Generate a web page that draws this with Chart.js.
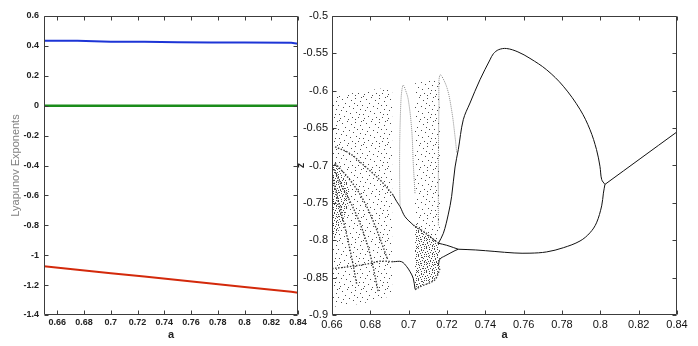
<!DOCTYPE html>
<html>
<head>
<meta charset="utf-8">
<script src="https://cdn.jsdelivr.net/npm/chart.js@4.4.0/dist/chart.umd.min.js"></script>
<style>
  body { margin: 0; background: #fff; }
  #wrap { position: relative; width: 698px; height: 346px; overflow: hidden; }
  #wrap canvas { position: absolute; top: 0; }
</style>
</head>
<body>
<div id="wrap">
  <canvas id="lyaChart" width="310" height="346" style="left:0"></canvas>
  <canvas id="bifChart" width="408" height="346" style="left:290px"></canvas>
</div>
<script>
// ---------- left panel: Lyapunov exponents ----------
const lyaA     = [0.65, 0.675, 0.70, 0.725, 0.75, 0.775, 0.80, 0.835, 0.84];
const lyaBlue  = [0.435, 0.434, 0.428, 0.427, 0.424, 0.423, 0.422, 0.421, 0.415];
const lyaGreen = [0, 0, 0, 0, 0, 0, 0, 0, 0];
const lyaRed   = [-1.074, -1.097, -1.120, -1.143, -1.166, -1.189, -1.213, -1.245, -1.251];

const leftXTicks = [0.66, 0.68, 0.70, 0.72, 0.74, 0.76, 0.78, 0.80, 0.82, 0.84];
const leftYTicks = [-1.4, -1.2, -1.0, -0.8, -0.6, -0.4, -0.2, 0, 0.2, 0.4, 0.6];

// ---------- right panel: bifurcation diagram, z against a ----------
const rightXTicks = [0.66, 0.68, 0.70, 0.72, 0.74, 0.76, 0.78, 0.80, 0.82, 0.84];
const rightYTicks = [-0.9, -0.85, -0.8, -0.75, -0.7, -0.65, -0.6, -0.55, -0.5];

// periodic branches (solid curves)
const branchP1 = [[0.8024, -0.7253], [0.84, -0.6550]];
const branchUpper = [[0.8024, -0.7253], [0.8007, -0.7187], [0.7998, -0.7010], [0.7980, -0.6787], [0.7946, -0.6520],
  [0.7894, -0.6250], [0.7807, -0.5940], [0.7720, -0.5720], [0.7633, -0.5567], [0.7570, -0.5480], [0.7511, -0.5435],
  [0.7470, -0.5450], [0.7442, -0.5505], [0.7424, -0.5587], [0.7372, -0.5853], [0.7320, -0.6164], [0.7285, -0.6387],
  [0.7259, -0.6787], [0.7242, -0.7020], [0.7224, -0.7417], [0.7207, -0.7650], [0.7181, -0.7907], [0.7155, -0.8040]];
const branchLower = [[0.8024, -0.7253], [0.8016, -0.7370], [0.8007, -0.7540], [0.7980, -0.7767], [0.7946, -0.7900],
  [0.7894, -0.8010], [0.7807, -0.8100], [0.7720, -0.8156], [0.7633, -0.8173], [0.7550, -0.8170], [0.7450, -0.8150],
  [0.7350, -0.8130], [0.7259, -0.8120]];
const loopUpper = [[0.7155, -0.8040], [0.7198, -0.8067], [0.7233, -0.8097], [0.7259, -0.8120]];
const loopLower = [[0.7155, -0.8340], [0.7163, -0.8253], [0.7190, -0.8209], [0.7216, -0.8173], [0.7242, -0.8138], [0.7259, -0.8120]];
const windowUpper = [[0.6920, -0.7400], [0.6938, -0.7484], [0.6955, -0.7550], [0.6981, -0.7685], [0.7024, -0.7796]];
const windowLower = [[0.6920, -0.8287], [0.6963, -0.8287], [0.6990, -0.8354], [0.7007, -0.8420], [0.7024, -0.8510], [0.7033, -0.8650]];

// faint arcs
const arcWindow = [[0.6955, -0.7550], [0.6953, -0.7200], [0.6953, -0.6800], [0.6955, -0.6500], [0.6960, -0.6120],
  [0.6966, -0.5970], [0.6972, -0.5925], [0.6982, -0.5980], [0.6998, -0.6120], [0.7016, -0.6525], [0.7024, -0.6970], [0.7033, -0.7370]];
const arcBand2 = [[0.7155, -0.7800], [0.7155, -0.7000], [0.7158, -0.6200], [0.7163, -0.5790], [0.7198, -0.5946],
  [0.7224, -0.6258], [0.7242, -0.6615], [0.7251, -0.6837]];

// dense streaks inside the chaotic bands
const streak1 = [[0.6616, -0.675], [0.6694, -0.684], [0.6763, -0.699], [0.6820, -0.712], [0.6868, -0.724], [0.6920, -0.740]];
const streak2 = [[0.6616, -0.697], [0.6694, -0.7194], [0.6763, -0.746], [0.6816, -0.775], [0.6868, -0.810], [0.6890, -0.826]];
const streak3 = [[0.6610, -0.705], [0.6655, -0.730], [0.6694, -0.748], [0.6750, -0.780], [0.6800, -0.820], [0.6842, -0.870]];
const streak4 = [[0.6605, -0.715], [0.6630, -0.745], [0.6665, -0.780], [0.6700, -0.820], [0.6730, -0.860]];
const streak5 = [[0.6600, -0.838], [0.6700, -0.835], [0.6800, -0.831], [0.6850, -0.828], [0.6920, -0.8287]];
const streak6 = [[0.7024, -0.7796], [0.7080, -0.7890], [0.7120, -0.7970], [0.7155, -0.8040]];
const streak7 = [[0.7033, -0.8660], [0.7070, -0.8610], [0.7110, -0.8570], [0.7140, -0.8520], [0.7163, -0.8380]];

// chaotic band outlines
const band1Top    = [[0.66, -0.607], [0.667, -0.605], [0.675, -0.601], [0.683, -0.598], [0.6915, -0.595]];
const band1Bottom = [[0.66, -0.889], [0.668, -0.887], [0.675, -0.885], [0.680, -0.882], [0.684, -0.878], [0.688, -0.877], [0.6915, -0.870]];
const band1DenseTop    = [[0.66, -0.695], [0.664, -0.705], [0.669, -0.725]];
const band1DenseBottom = [[0.66, -0.800], [0.664, -0.785], [0.669, -0.750]];
const band2Top    = [[0.7033, -0.590], [0.708, -0.588], [0.712, -0.586], [0.7163, -0.582]];
const band2Bottom = [[0.7033, -0.866], [0.707, -0.861], [0.711, -0.857], [0.714, -0.852], [0.7163, -0.838]];
const band2DenseTop = [[0.7033, -0.776], [0.708, -0.787], [0.712, -0.795], [0.7163, -0.806]];

// ---------- helpers ----------
const fmt = v => String(parseFloat(Number(v).toFixed(2)));
const pts = arr => arr.map(p => ({ x: p[0], y: p[1] }));

function dotPattern(size, dots, color) {
    const c = document.createElement('canvas');
    c.width = size; c.height = size;
    const g = c.getContext('2d');
    g.fillStyle = color;
    dots.forEach(d => g.fillRect(d[0], d[1], 1, 1));
    return g.createPattern(c, 'repeat');
}
// stipple textures for the chaotic bands (fixed dot layout in one tile)
const sparseDots = dotPattern(24, [[1,0],[9,1],[17,2],[23,1],[4,3],[13,4],[22,5],[7,7],[16,7],[19,9],[0,9],[11,10],
    [5,11],[15,12],[3,14],[22,13],[8,15],[18,16],[21,18],[12,17],[1,18],[6,20],[20,21],[14,21],[10,23],[2,22],[17,23]], 'rgba(30,30,30,0.8)');
const denseDots  = dotPattern(8, [[0,0],[3,1],[6,0],[1,3],[5,2],[7,4],[2,5],[4,4],[0,6],[6,6],[3,7]], 'rgba(20,20,20,0.75)');

// MATLAB style box with inward tick marks
const matlabBox = {
    id: 'matlabBox',
    afterDraw(chart, args, opts) {
        const { ctx, chartArea: { left, right, top, bottom }, scales: { x, y } } = chart;
        const L = Math.round(left) + 0.5, R = Math.round(right) - 0.5;
        const T = Math.round(top) + 0.5, B = Math.round(bottom) - 0.5;
        const len = opts.len || 4;
        ctx.save();
        ctx.strokeStyle = '#3c3c3c';
        ctx.lineWidth = 1;
        ctx.beginPath();
        ctx.rect(L, T, R - L, B - T);
        x.ticks.forEach(t => {
            const px = Math.round(x.getPixelForValue(t.value)) + 0.5;
            ctx.moveTo(px, B); ctx.lineTo(px, B - len);
            ctx.moveTo(px, T); ctx.lineTo(px, T + len);
        });
        y.ticks.forEach(t => {
            const py = Math.round(y.getPixelForValue(t.value)) + 0.5;
            ctx.moveTo(L, py); ctx.lineTo(L + len, py);
            ctx.moveTo(R, py); ctx.lineTo(R - len, py);
        });
        ctx.stroke();
        ctx.restore();
    }
};

// ---------- left chart ----------
const boldTick = { family: 'Liberation Sans', size: 9, weight: 'bold' };

new Chart(document.getElementById('lyaChart'), {
    type: 'line',
    data: {
        datasets: [
            { data: lyaA.map((a, i) => ({ x: a, y: lyaGreen[i] })), borderColor: '#1a8c1a', borderWidth: 2.5 },
            { data: lyaA.map((a, i) => ({ x: a, y: lyaBlue[i] })), borderColor: '#1d35d6', borderWidth: 2 },
            { data: lyaA.map((a, i) => ({ x: a, y: lyaRed[i] })), borderColor: '#d3290b', borderWidth: 2 }
        ]
    },
    options: {
        responsive: false,
        animation: false,
        devicePixelRatio: 1,
        layout: { padding: { left: 0, right: 12, top: 16, bottom: 0 } },
        elements: { point: { radius: 0 }, line: { tension: 0 } },
        plugins: { legend: { display: false }, tooltip: { enabled: false }, matlabBox: { len: 4 } },
        scales: {
            x: {
                type: 'linear', min: 0.65, max: 0.84,
                afterBuildTicks: s => { s.ticks = leftXTicks.map(v => ({ value: v })); },
                afterFit: s => { s.height = 31; },
                grid: { display: false, drawTicks: false },
                border: { display: false },
                ticks: { font: boldTick, color: '#222', padding: 2, maxRotation: 0, autoSkip: false, callback: fmt },
                title: { display: true, text: 'a', color: '#222', font: { family: 'Liberation Sans', size: 11, weight: 'bold' }, padding: { top: 0, bottom: 4 } }
            },
            y: {
                min: -1.4, max: 0.6,
                afterBuildTicks: s => { s.ticks = leftYTicks.map(v => ({ value: v })); },
                afterFit: s => { s.width = 44; },
                grid: { display: false, drawTicks: false },
                border: { display: false },
                ticks: { font: boldTick, color: '#222', padding: 5, autoSkip: false, callback: fmt },
                title: { display: true, text: 'Lyapunov Exponents', color: '#808080', font: { family: 'Liberation Sans', size: 11 }, padding: { top: 9, bottom: 0 } }
            }
        }
    },
    plugins: [matlabBox]
});

// ---------- right chart ----------
const fillBand = (top, color) => ({ data: pts(top), borderColor: 'rgba(0,0,0,0)', borderWidth: 0, backgroundColor: color, fill: '+1', tension: 0.3 });
const edge = arr => ({ data: pts(arr), borderColor: 'rgba(0,0,0,0)', borderWidth: 0, fill: false, tension: 0.3 });
const solid = (arr, w) => ({ data: pts(arr), borderColor: '#111', borderWidth: w || 1, fill: false, tension: 0.35 });
const faint = arr => ({ data: pts(arr), borderColor: '#8a8a8a', borderWidth: 1, borderDash: [1, 1], fill: false, tension: 0.35 });
const streak = arr => ({ data: pts(arr), borderColor: 'rgba(15,15,15,0.8)', borderWidth: 1.4, borderDash: [1.5, 1.5], fill: false, tension: 0.35 });

const rightTick = { family: 'Liberation Sans', size: 11 };

new Chart(document.getElementById('bifChart'), {
    type: 'line',
    data: {
        datasets: [
            fillBand(band1Top, sparseDots), edge(band1Bottom),
            fillBand(band1DenseTop, denseDots), edge(band1DenseBottom),
            fillBand(band2Top, sparseDots), edge(band2Bottom),
            fillBand(band2DenseTop, denseDots), edge(band2Bottom),
            faint(arcWindow), faint(arcBand2),
            streak(streak1), streak(streak2), streak(streak3), streak(streak4),
            streak(streak5), streak(streak6), streak(streak7),
            solid(windowUpper), solid(windowLower),
            solid(loopUpper), solid(loopLower),
            solid(branchUpper), solid(branchLower), solid(branchP1)
        ]
    },
    options: {
        responsive: false,
        animation: false,
        devicePixelRatio: 1,
        layout: { padding: { left: 0, right: 21, top: 16, bottom: 0 } },
        elements: { point: { radius: 0 } },
        plugins: { legend: { display: false }, tooltip: { enabled: false }, matlabBox: { len: 4 } },
        scales: {
            x: {
                type: 'linear', min: 0.66, max: 0.84,
                afterBuildTicks: s => { s.ticks = rightXTicks.map(v => ({ value: v })); },
                afterFit: s => { s.height = 31; },
                grid: { display: false, drawTicks: false },
                border: { display: false },
                ticks: { font: rightTick, color: '#111', padding: 3, maxRotation: 0, autoSkip: false, callback: fmt },
                title: { display: true, text: 'a', color: '#222', font: { family: 'Liberation Sans', size: 11, weight: 'bold' }, padding: { top: 0, bottom: 4 } }
            },
            y: {
                min: -0.9, max: -0.5,
                afterBuildTicks: s => { s.ticks = rightYTicks.map(v => ({ value: v })); },
                afterFit: s => { s.width = 42; },
                grid: { display: false, drawTicks: false },
                border: { display: false },
                ticks: { font: rightTick, color: '#111', padding: 4, autoSkip: false, callback: fmt },
                title: { display: true, text: 'z', color: '#222', font: { family: 'Liberation Sans', size: 11, weight: 'bold' }, padding: { top: 4, bottom: 0 } }
            }
        }
    },
    plugins: [matlabBox]
});
</script>
</body>
</html>
